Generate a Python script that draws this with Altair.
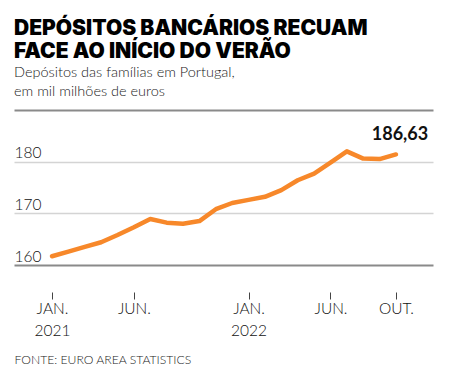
import altair as alt
import pandas as pd

# Data
datas = ["2021-01", "2021-02", "2021-03", "2021-04", "2021-05", "2021-06",
         "2021-07", "2021-08", "2021-09", "2021-10", "2021-11", "2021-12",
         "2022-01", "2022-02", "2022-03", "2022-04", "2022-05", "2022-06",
         "2022-07", "2022-08", "2022-09", "2022-10"]
valores = [161.7, 162.6, 163.5, 164.4, 165.8, 167.3,
           168.9, 168.2, 168.0, 168.5, 170.8, 172.0,
           172.6, 173.2, 174.5, 176.4, 177.7, 179.8,
           182.0, 180.6, 180.5, 181.4]
rotulo_final = "186,63"

tick_meses = ["2021-01", "2021-06", "2022-01", "2022-06", "2022-10"]
tick_rotulos = ["JAN.|2021", "JUN.", "JAN.|2022", "JUN.", "OUT."]
y_ticks = [160, 170, 180, 190]

titulo = ["DEPÓSITOS BANCÁRIOS RECUAM", "FACE AO INÍCIO DO VERÃO"]
subtitulo = ["Depósitos das famílias em Portugal,", "em mil milhões de euros"]
fonte = "FONTE: EURO AREA STATISTICS"

df = pd.DataFrame({"i": list(range(len(datas))), "data": datas, "valor": valores})
df["rotulo"] = ""
df.loc[df.index[-1], "rotulo"] = rotulo_final

tick_idx = [datas.index(t) for t in tick_meses]
label_expr = "split([" + ",".join("'" + r + "'" for r in tick_rotulos) + "][indexof([" + \
    ",".join(str(v) for v in tick_idx) + "], datum.value)], '|')"

FONT = "Lato"
ORANGE = "#F7882A"

x_enc = alt.X(
    "i:Q",
    scale=alt.Scale(domain=[-2.32, 23.26], nice=False, zero=False),
    axis=alt.Axis(
        values=tick_idx, labelExpr=label_expr, domain=False, grid=False,
        ticks=True, tickSize=7, tickColor="#444", tickWidth=1,
        offset=27, labelPadding=2, labelFont=FONT, labelFontSize=15.5,
        labelFontWeight=300, labelColor="#111", labelLineHeight=22,
        labelBaseline="top", labelFlush=False, labelOverlap=False,
        title=fonte, titleFont=FONT, titleFontSize=12.2, titleFontWeight=300,
        titleColor="#222", titleAnchor="start", titleAlign="left",
        titlePadding=15,
    ),
)
y_enc = alt.Y(
    "valor:Q",
    scale=alt.Scale(domain=[160, 190], nice=False, zero=False),
    axis=alt.Axis(
        values=y_ticks, domain=False, ticks=False, grid=True,
        gridColor={"condition": {"test": "datum.value == 160 || datum.value == 190", "value": "#8a8a8a"}, "value": "#d4d4d4"},
        gridWidth={"condition": {"test": "datum.value == 160 || datum.value == 190", "value": 2}, "value": 1.5},
        labelExpr="datum.value == 190 ? '' : datum.label",
        labelAlign="left", labelBaseline="alphabetic", labelPadding=0,
        labelOffset=-4, labelFont=FONT, labelFontSize=15.5, labelFontWeight=300,
        labelColor="#111", title=None,
    ),
)

base = alt.Chart(df)
linha = base.mark_line(color=ORANGE, strokeWidth=4.5, strokeCap="round",
                       strokeJoin="round").encode(x=x_enc, y=y_enc)
texto = base.mark_text(font=FONT, fontSize=18, fontWeight="bold", color="#111",
                       align="center", baseline="alphabetic", dx=4, dy=-14).encode(
    x="i:Q", y="valor:Q", text="rotulo:N")

chart = alt.layer(linha, texto).properties(
    width=419, height=155,
    autosize=alt.AutoSizeParams(type="none"),
    padding={"left": 14, "top": 110, "right": 27, "bottom": 112},
    title=alt.TitleParams(
        text=titulo, subtitle=subtitulo, anchor="start", frame="group",
        font="Inter", fontSize=21, fontWeight=900, lineHeight=23, color="#000",
        subtitleFont=FONT, subtitleFontSize=14.5, subtitleFontWeight=300,
        subtitleLineHeight=19, subtitleColor="#222", subtitlePadding=4, offset=12,
    ),
).configure_view(stroke=None)

chart.save("out.html", embed_options={"renderer": "svg", "actions": False})
